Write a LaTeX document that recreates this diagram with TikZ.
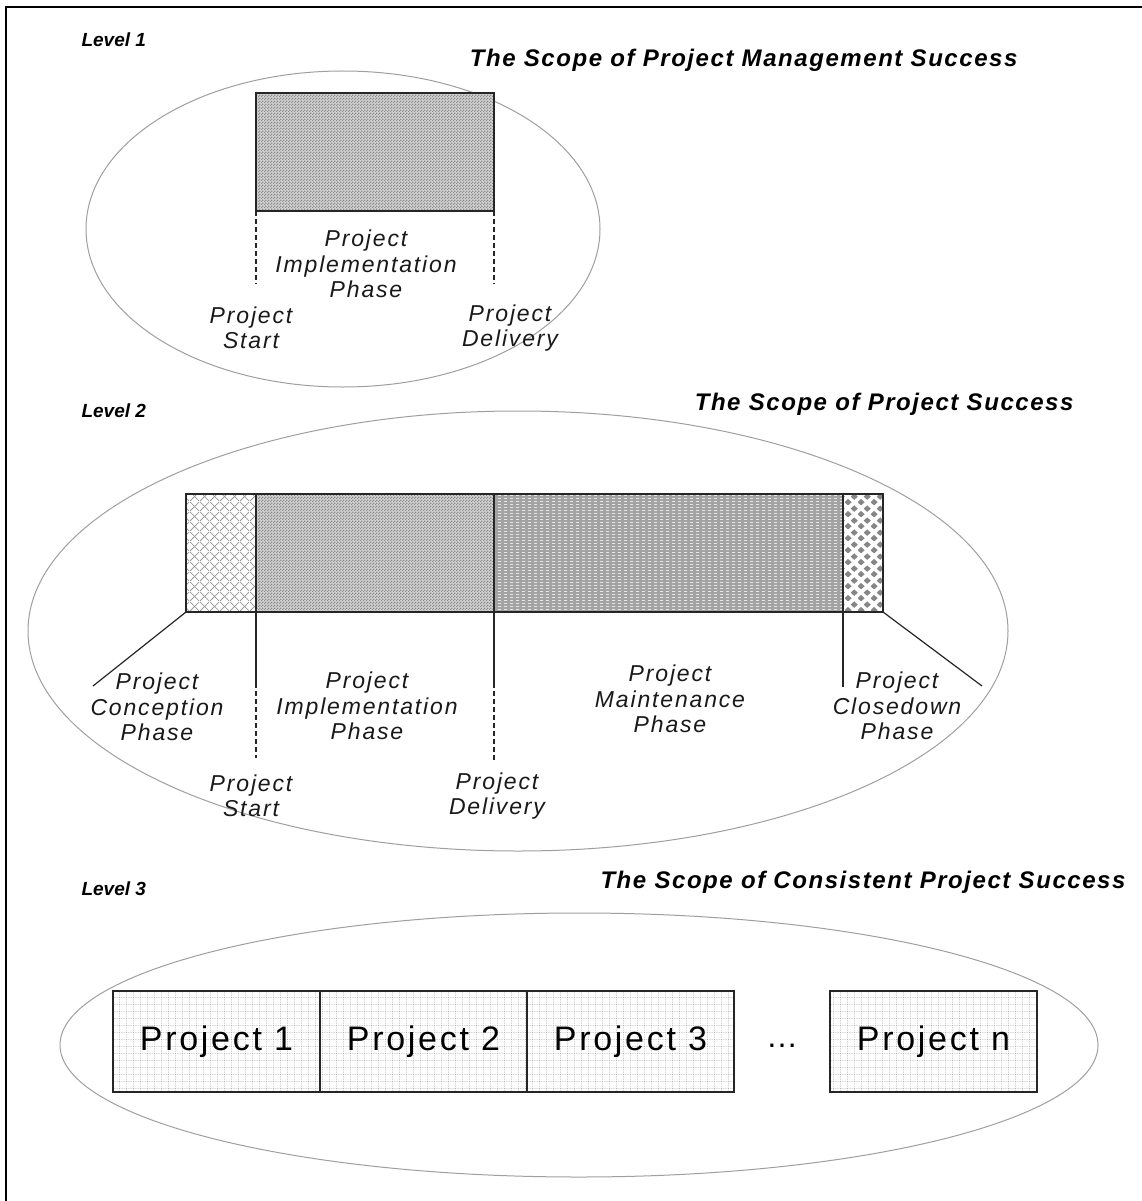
\documentclass[tikz,border=0pt]{standalone}
\usepackage{fontspec}
\setmainfont{Liberation Sans}
\newfontfamily\spacedfont[LetterSpace=8]{Liberation Sans}
\newfontfamily\headfont[LetterSpace=6.5]{Liberation Sans}
\usetikzlibrary{positioning,shapes.geometric,patterns.meta}

% Fills of the phase bars and project boxes
\tikzdeclarepattern{
  name=phaseCross, type=uncolored,
  bottom left={(0pt,0pt)}, top right={(10pt,10pt)}, tile size={(10pt,10pt)},
  code={\draw[line width=0.8pt] (0pt,0pt) -- (10pt,10pt); \draw[line width=0.8pt] (0pt,10pt) -- (10pt,0pt);}
}
\tikzdeclarepattern{
  name=phaseChecker, type=uncolored,
  bottom left={(0pt,0pt)}, top right={(3pt,3pt)}, tile size={(3pt,3pt)},
  code={\fill (0pt,0pt) rectangle (1.5pt,1.5pt); \fill (1.5pt,1.5pt) rectangle (3pt,3pt);}
}
\tikzdeclarepattern{
  name=phaseDashes, type=uncolored,
  bottom left={(0pt,0pt)}, top right={(6pt,3pt)}, tile size={(6pt,3pt)},
  code={\fill (0pt,0pt) rectangle (3.5pt,1pt);}
}
\tikzdeclarepattern{
  name=phaseDiamonds, type=uncolored,
  bottom left={(0pt,0pt)}, top right={(13pt,12pt)}, tile size={(13pt,12pt)},
  code={\fill (3.25pt,-0.5pt) -- (7pt,3pt) -- (3.25pt,6.5pt) -- (-0.5pt,3pt) -- cycle;
        \fill (9.75pt,5.5pt) -- (13.5pt,9pt) -- (9.75pt,12.5pt) -- (6pt,9pt) -- cycle;}
}
\tikzdeclarepattern{
  name=projectGrid, type=uncolored,
  bottom left={(0pt,0pt)}, top right={(7pt,7pt)}, tile size={(7pt,7pt)},
  code={\draw[line width=0.6pt, dash pattern=on 1pt off 1pt] (0pt,0.3pt) -- (7pt,0.3pt);
        \draw[line width=0.6pt, dash pattern=on 1pt off 1pt] (0.3pt,0pt) -- (0.3pt,7pt);}
}

\begin{document}
\begin{tikzpicture}[
    x=1pt, y=-1pt,
    scopeStyle/.style={
        ellipse, draw=gray!75, line width=1pt, inner sep=0pt
    },
    phaseStyle/.style={
        rectangle, draw=black!85, line width=1.3pt, inner sep=0pt, outer sep=0pt,
        anchor=north west, minimum height=118pt
    },
    projectStyle/.style={
        rectangle, draw=black!85, line width=1.4pt, inner sep=0pt, outer sep=0pt,
        anchor=north west, minimum width=207pt, minimum height=101pt,
        preaction={fill=white}, pattern=projectGrid, pattern color=gray!70,
        font=\spacedfont\fontsize{34}{38}\selectfont
    },
    labelStyle/.style={align=center, text=black!90, font=\spacedfont\itshape\fontsize{23}{25.5}\selectfont},
    titleStyle/.style={anchor=east, font=\headfont\bfseries\itshape\fontsize{24}{27}\selectfont},
    levelStyle/.style={anchor=west, font=\bfseries\itshape\fontsize{19}{22}\selectfont},
    tickStyle/.style={draw=black!85, line width=1.2pt},
    dashStyle/.style={tickStyle, dash pattern=on 5pt off 3pt}
]
    \useasboundingbox (0,0) rectangle (1142,1201);
    \fill[white] (0,0) rectangle (1142,1201);
    \draw[line width=2.5pt] (6,1201) -- (6,7) -- (1142,7);

    % Level 1
    \node[levelStyle] (lvl1) at (78,40) {Level 1};
    \node[titleStyle] (title1) at (1021,60) {The Scope of Project Management Success};
    \node[scopeStyle, minimum width=514pt, minimum height=316pt] (scope1) at (343,229) {};
    \node[phaseStyle, minimum width=238pt, preaction={fill=gray!35}, pattern=phaseChecker, pattern color=gray!90] (impl1) at (256,93) {};
    \coordinate (start1end) at (256,284);
    \coordinate (deliv1end) at (494,284);
    \draw[dashStyle] (impl1.south west) -- (start1end);
    \draw[dashStyle] (impl1.south east) -- (deliv1end);
    \node[labelStyle] (impl1lbl) at (366,264) {Project\\Implementation\\Phase};
    \node[labelStyle] (start1lbl) at (251,328) {Project\\Start};
    \node[labelStyle] (deliv1lbl) at (510,328) {Project\\Delivery};

    % Level 2
    \node[levelStyle] (lvl2) at (78,411) {Level 2};
    \node[titleStyle] (title2) at (1077,404) {The Scope of Project Success};
    \node[scopeStyle, minimum width=980pt, minimum height=440pt] (scope2) at (518,631) {};
    \node[phaseStyle, minimum width=70pt, preaction={fill=white}, pattern=phaseCross, pattern color=gray!80] (conc) at (186,494) {};
    \node[phaseStyle, minimum width=238pt, anchor=west, right=0pt of conc, preaction={fill=gray!35}, pattern=phaseChecker, pattern color=gray!90] (impl2) {};
    \node[phaseStyle, minimum width=349pt, anchor=west, right=0pt of impl2, preaction={fill=gray!72}, pattern=phaseDashes, pattern color=white!80!gray] (maint) {};
    \node[phaseStyle, minimum width=40pt, anchor=west, right=0pt of maint, preaction={fill=white}, pattern=phaseDiamonds, pattern color=gray!95] (close) {};
    \coordinate (concend) at (93,686);
    \coordinate (start2mid) at (256,683);
    \coordinate (start2end) at (256,758);
    \coordinate (deliv2mid) at (494,683);
    \coordinate (deliv2end) at (494,760);
    \coordinate (closetick) at (843,687);
    \coordinate (closeend) at (982,686);
    \draw[tickStyle] (conc.south west) -- (concend);
    \draw[tickStyle] (impl2.south west) -- (start2mid);
    \draw[dashStyle] (start2mid) -- (start2end);
    \draw[tickStyle] (impl2.south east) -- (deliv2mid);
    \draw[dashStyle] (deliv2mid) -- (deliv2end);
    \draw[tickStyle] (close.south west) -- (closetick);
    \draw[tickStyle] (close.south east) -- (closeend);
    \node[labelStyle] (conclbl) at (157,707) {Project\\Conception\\Phase};
    \node[labelStyle] (impl2lbl) at (367,706) {Project\\Implementation\\Phase};
    \node[labelStyle] (maintlbl) at (670,699) {Project\\Maintenance\\Phase};
    \node[labelStyle] (closelbl) at (897,706) {Project\\Closedown\\Phase};
    \node[labelStyle] (start2lbl) at (251,796) {Project\\Start};
    \node[labelStyle] (deliv2lbl) at (497,796) {Project\\Delivery};

    % Level 3
    \node[levelStyle] (lvl3) at (78,889) {Level 3};
    \node[titleStyle] (title3) at (1129,882) {The Scope of Consistent Project Success};
    \node[scopeStyle, minimum width=1038pt, minimum height=264pt] (scope3) at (579,1045) {};
    \node[projectStyle] (proj1) at (113,991) {Project 1};
    \node[projectStyle, anchor=west, right=0pt of proj1] (proj2) {Project 2};
    \node[projectStyle, anchor=west, right=0pt of proj2] (proj3) {Project 3};
    \node[projectStyle] (projn) at (830,991) {Project n};
    \draw[line width=2.6pt, draw=black!85] (proj1.north east) -- (proj1.south east);
    \draw[line width=2.6pt, draw=black!85] (proj2.north east) -- (proj2.south east);
    \node[font=\fontsize{32}{36}\selectfont] (dots) at (782,1046) {\ldots};
\end{tikzpicture}
\end{document}
